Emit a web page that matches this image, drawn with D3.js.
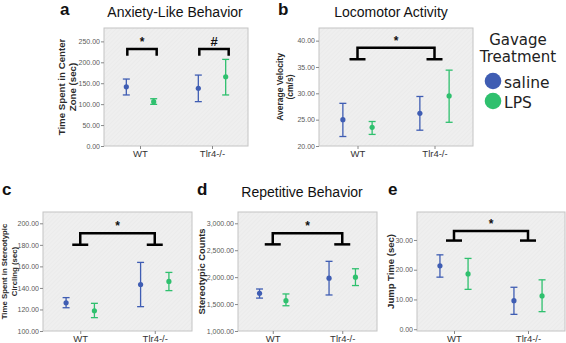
<!DOCTYPE html>
<html>
<head>
<meta charset="utf-8">
<script src="https://cdn.jsdelivr.net/npm/d3@7"></script>
<style>
  body { margin: 0; background: #fff; }
  svg { display: block; }
</style>
</head>
<body>
<div id="chart"></div>
<script>
// groups and treatments
var groups = ["WT", "Tlr4-/-"];
var treatments = ["saline", "LPS"];
var colors = ["#3f5db3", "#2fc06e"];

// a - anxiety-like behavior (time in center zone)
var anxietyMean = [[141.5, 106], [138, 165.5]];
var anxietyLow  = [[122, 99.5], [106, 122]];
var anxietyHigh = [[160, 113], [169.5, 207]];
var anxietyTicks = [0, 50, 100, 150, 200, 250];

// b - locomotor activity (average velocity)
var velocityMean = [[25.0, 23.55], [26.2, 29.5]];
var velocityLow  = [[21.8, 22.2], [23.0, 24.5]];
var velocityHigh = [[28.1, 24.65], [29.4, 34.4]];
var velocityTicks = [20, 25, 30, 35, 40];

// c - stereotypic circling
var circlingMean = [[126.2, 118.8], [143.2, 146]];
var circlingLow  = [[121.6, 112.4], [122.6, 137.5]];
var circlingHigh = [[131, 125.7], [163.7, 154.4]];
var circlingTicks = [100, 120, 140, 160, 180, 200];

// d - stereotypic counts
var countsMean = [[1699, 1563], [1981, 2000]];
var countsLow  = [[1611, 1469], [1669, 1844]];
var countsHigh = [[1780, 1688], [2294, 2156]];
var countsTicks = [1000, 1500, 2000, 2500, 3000];

// e - jump time
var jumpMean = [[21.3, 18.6], [9.6, 11.2]];
var jumpLow  = [[17.5, 13.4], [5.0, 5.9]];
var jumpHigh = [[25.0, 23.8], [14.1, 16.6]];
var jumpTicks = [0, 10, 20, 30];

var width = 566, height = 343;

var svg = d3.select("#chart").append("svg")
    .attr("width", width)
    .attr("height", height)
    .style("font-family", "'Liberation Sans', Arial, sans-serif");

// faint diagonal texture for the plot background
var pat = svg.append("defs").append("pattern")
    .attr("id", "hatch")
    .attr("patternUnits", "userSpaceOnUse")
    .attr("width", 3).attr("height", 3)
    .attr("patternTransform", "rotate(45)");
pat.append("rect").attr("width", 3).attr("height", 3).attr("fill", "#efefef");
pat.append("line").attr("x1", 0).attr("y1", 0).attr("x2", 0).attr("y2", 3)
    .attr("stroke", "#e7e7e7").attr("stroke-width", 1);

var panels = [
  { letter: "a", lx: 60, ly: 15, title: "Anxiety-Like Behavior", tx: 175, ty: 17,
    box: [104, 28, 248, 146], domain: [0, 282], ticks: anxietyTicks, fmt: ".2f",
    ylabel: ["Time Spent in Center", "Zone (sec)"], labX: [62, 73], labSize: 9.7,
    mean: anxietyMean, lo: anxietyLow, hi: anxietyHigh,
    pairs: [{ g: 0, top: 231.6, foot: 215.6, mark: "*" }, { g: 1, top: 231.6, foot: 215.6, mark: "#" }] },
  { letter: "b", lx: 278, ly: 15, title: "Locomotor Activity", tx: 391, ty: 17,
    box: [319, 28, 473, 146], domain: [20, 42.4], ticks: velocityTicks, fmt: ".2f",
    ylabel: ["Average Velocity", "(cm/s)"], labX: [280, 290], labSize: 8.5,
    mean: velocityMean, lo: velocityLow, hi: velocityHigh,
    across: { top: 38.67, foot: 36.47 } },
  { letter: "c", lx: 2, ly: 195,
    box: [43, 212, 192, 331], domain: [100, 210.5], ticks: circlingTicks, fmt: ".2f",
    ylabel: ["Time Spent in Stereotypic", "Circling (sec)"], labX: [4, 14], labSize: 7.8,
    mean: circlingMean, lo: circlingLow, hi: circlingHigh,
    across: { top: 190.7, foot: 180.1 } },
  { letter: "d", lx: 197, ly: 195, title: "Repetitive Behavior", tx: 302, ty: 197,
    box: [238, 212, 377, 331], domain: [1000, 3210], ticks: countsTicks, fmt: ",.2f",
    ylabel: ["Stereotypic Counts"], labX: [202], labSize: 9.4,
    mean: countsMean, lo: countsLow, hi: countsHigh,
    across: { top: 2814, foot: 2609 } },
  { letter: "e", lx: 388, ly: 195,
    box: [417, 212, 565, 331], domain: [-0.6, 39.4], ticks: jumpTicks, fmt: ".2f",
    ylabel: ["Jump Time (sec)"], labX: [391], labSize: 9.5,
    mean: jumpMean, lo: jumpLow, hi: jumpHigh,
    across: { top: 33.0, foot: 29.8 } }
];

panels.forEach(function(p) {
  var x0 = p.box[0], y0 = p.box[1], x1 = p.box[2], y1 = p.box[3];
  var g = svg.append("g");

  var x = d3.scalePoint().domain(groups).range([x0, x1]).padding(0.5);
  var off = (x1 - x0) * 0.095;
  var xt = d3.scalePoint().domain(treatments).range([-off, off]);
  var y = d3.scaleLinear().domain(p.domain).range([y1, y0]);

  // letter and title
  g.append("text").attr("x", p.lx).attr("y", p.ly)
      .attr("font-size", 17).attr("font-weight", "bold").attr("fill", "#111")
      .text(p.letter);
  if (p.title) {
    g.append("text").attr("x", p.tx).attr("y", p.ty)
        .attr("text-anchor", "middle").attr("font-size", 14).attr("fill", "#111")
        .text(p.title);
  }

  // plot box
  g.append("rect")
      .attr("x", x0).attr("y", y0)
      .attr("width", x1 - x0).attr("height", y1 - y0)
      .attr("fill", "url(#hatch)")
      .attr("stroke", "#c4c4c4").attr("stroke-width", 1);

  // y axis
  var ya = g.append("g").attr("transform", "translate(" + x0 + ",0)")
      .call(d3.axisLeft(y).tickValues(p.ticks).tickSize(3).tickPadding(1)
          .tickFormat(d3.format(p.fmt)));
  ya.select(".domain").remove();
  ya.selectAll("line").attr("stroke", "#888");
  ya.selectAll("text").attr("font-size", 7).attr("fill", "#5a5a5a")
      .attr("font-family", "'Liberation Sans', Arial, sans-serif");

  // x axis
  var xa = g.append("g").attr("transform", "translate(0," + y1 + ")")
      .call(d3.axisBottom(x).tickSize(3).tickPadding(1));
  xa.select(".domain").remove();
  xa.selectAll("line").attr("stroke", "#888");
  xa.selectAll("text").attr("font-size", 9.5).attr("fill", "#333")
      .attr("font-family", "'Liberation Sans', Arial, sans-serif");

  // y label
  var cy = (y0 + y1) / 2;
  p.ylabel.forEach(function(line, i) {
    g.append("text")
        .attr("transform", "translate(" + p.labX[i] + "," + cy + ") rotate(-90)")
        .attr("text-anchor", "middle").attr("dy", "0.35em")
        .attr("font-size", p.labSize).attr("font-weight", "bold").attr("fill", "#2a2a2a")
        .text(line);
  });

  // error bars
  groups.forEach(function(grp, gi) {
    treatments.forEach(function(tr, ti) {
      var cx = x(grp) + xt(tr);
      var c = colors[ti];
      var eb = g.append("g").attr("stroke", c).attr("stroke-width", 1.3);
      eb.append("line").attr("x1", cx).attr("x2", cx)
          .attr("y1", y(p.lo[gi][ti])).attr("y2", y(p.hi[gi][ti]));
      [p.lo[gi][ti], p.hi[gi][ti]].forEach(function(v) {
        eb.append("line").attr("x1", cx - 3.5).attr("x2", cx + 3.5)
            .attr("y1", y(v)).attr("y2", y(v));
      });
      g.append("circle").attr("cx", cx).attr("cy", y(p.mean[gi][ti]))
          .attr("r", 2.6).attr("fill", c);
    });
  });

  // significance brackets
  if (p.pairs) {
    p.pairs.forEach(function(b) {
      var xa1 = x(groups[b.g]) + xt("saline") + 1, xb1 = x(groups[b.g]) + xt("LPS") + 3;
      g.append("path")
          .attr("d", "M" + xa1 + "," + y(b.foot) + "V" + y(b.top) + "H" + xb1 + "V" + y(b.foot))
          .attr("stroke", "#000").attr("stroke-width", 2.5).attr("fill", "none");
      g.append("text").attr("x", (xa1 + xb1) / 2).attr("y", y(b.top) - 3)
          .attr("text-anchor", "middle").attr("font-size", b.mark === "#" ? 13 : 12)
          .attr("font-weight", "bold").attr("fill", "#111")
          .text(b.mark);
    });
  }
  if (p.across) {
    var xl = x(groups[0]), xr = x(groups[1]);
    var yt = y(p.across.top), yf = y(p.across.foot);
    g.append("path")
        .attr("d", "M" + xl + "," + yf + "V" + yt + "H" + xr + "V" + yf)
        .attr("stroke", "#000").attr("stroke-width", 2.5).attr("fill", "none");
    [xl, xr].forEach(function(xx) {
      g.append("line").attr("x1", xx - 8).attr("x2", xx + 8)
          .attr("y1", yf).attr("y2", yf)
          .attr("stroke", "#000").attr("stroke-width", 2.5);
    });
    g.append("text").attr("x", (xl + xr) / 2).attr("y", yt - 3)
        .attr("text-anchor", "middle").attr("font-size", 12)
        .attr("font-weight", "bold").attr("fill", "#111")
        .text("*");
  }
});

// legend
var legend = svg.append("g").attr("font-family", "'DejaVu Sans', Verdana, sans-serif")
    .attr("fill", "#222");
legend.append("text").attr("x", 518).attr("y", 45).attr("text-anchor", "middle")
    .attr("font-size", 15).text("Gavage");
legend.append("text").attr("x", 518).attr("y", 62).attr("text-anchor", "middle")
    .attr("font-size", 15).text("Treatment");
var items = legend.selectAll("g.item").data(treatments).enter().append("g")
    .attr("class", "item")
    .attr("transform", function(d, i) { return "translate(493," + (81 + i * 20) + ")"; });
items.append("circle").attr("r", 8.3).attr("fill", function(d, i) { return colors[i]; });
items.append("text").attr("x", 11).attr("y", 6.5).attr("font-size", 15.5)
    .text(function(d) { return d; });
</script>
</body>
</html>
